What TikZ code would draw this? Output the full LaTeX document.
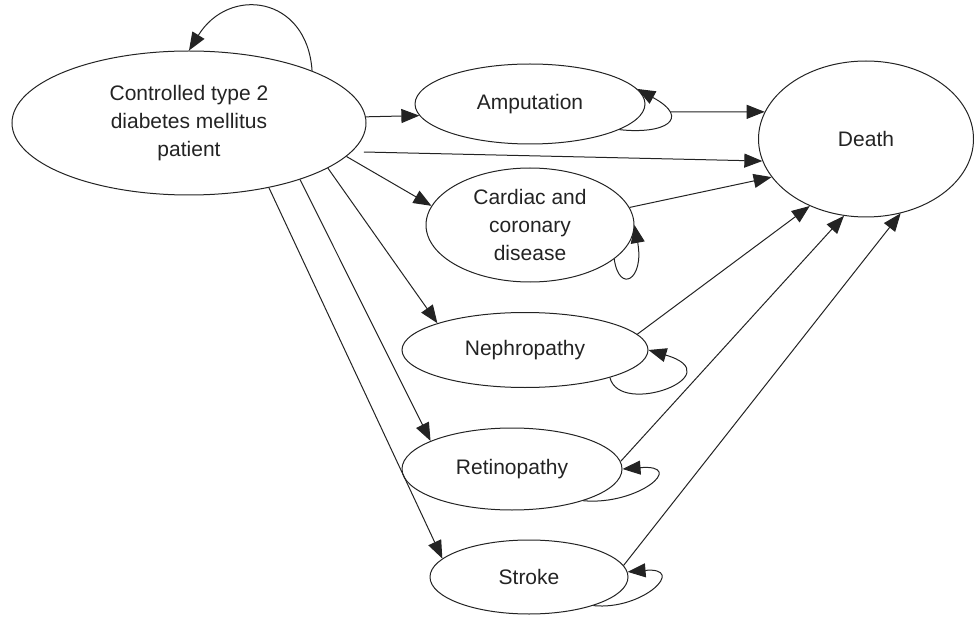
\documentclass[tikz,border=0pt]{standalone}
\usepackage{fontspec}
\setmainfont{Liberation Sans}
\usetikzlibrary{shapes.geometric,arrows.meta}
\definecolor{ink}{RGB}{35,35,35}
\begin{document}
\begin{tikzpicture}[x=1pt,y=-1pt,
  state/.style={ellipse, draw=ink, line width=1pt, inner sep=0pt, align=center,
    text=ink, font=\fontsize{21}{28}\selectfont},
  link/.style={draw=ink, line width=1pt, -{Triangle[length=18pt,width=14pt]}},
]
\useasboundingbox (0,0) rectangle (974,628);

% states
\node[state, minimum width=354pt, minimum height=144pt] (ctrl) at (189,123)
  {Controlled type 2\\diabetes mellitus\\patient};
\node[state, minimum width=230pt, minimum height=80pt] (amp) at (530,104) {Amputation};
\node[state, minimum width=215pt, minimum height=156pt] (death) at (866,139) {Death};
\node[state, minimum width=208pt, minimum height=114pt] (card) at (530,225)
  {Cardiac and\\coronary\\disease};
\node[state, minimum width=246pt, minimum height=75pt] (neph) at (525,350) {Nephropathy};
\node[state, minimum width=220pt, minimum height=82pt] (retino) at (512,469) {Retinopathy};
\node[state, minimum width=198pt, minimum height=74pt] (stroke) at (529,577) {Stroke};

% transitions out of the controlled state
\draw[link] (ctrl.2) -- (amp.186);
\draw[link, shorten <=12pt] (ctrl.-10) -- (death.192);
\draw[link] (ctrl.-12) -- (card.169);
\draw[link] (ctrl.-18) -- (neph.163);
\draw[link] (ctrl.-27.6) -- (retino.161);
\draw[link] (ctrl.-39) -- (stroke.168);

% transitions into death
\draw[link, shorten <=27pt] (amp.-4) -- (death.165);
\draw[link] (card.10) -- (death.202);
\draw[link] (neph.8) -- (death.230);
\draw[link] (retino.4) -- (death.254);
\draw[link] (stroke.7) -- (death.295);

% staying in the same state
\draw[link] (ctrl.23) .. controls +(-5,-75) and +(40,-65) .. (ctrl.90);
\draw[link] (amp.-16) .. controls +(45,5) and +(55,30) .. (amp.8);
\draw[link] (card.-22) .. controls +(5,35) and +(10,55) .. (card.0);
\draw[link] (neph.-18) .. controls +(10,40) and +(85,25) .. (neph.0);
\draw[link] (retino.-24) .. controls +(55,5) and +(65,-5) .. (retino.0);
\draw[link] (stroke.-24) .. controls +(50,5) and +(60,-5) .. (stroke.3);
\end{tikzpicture}
\end{document}
